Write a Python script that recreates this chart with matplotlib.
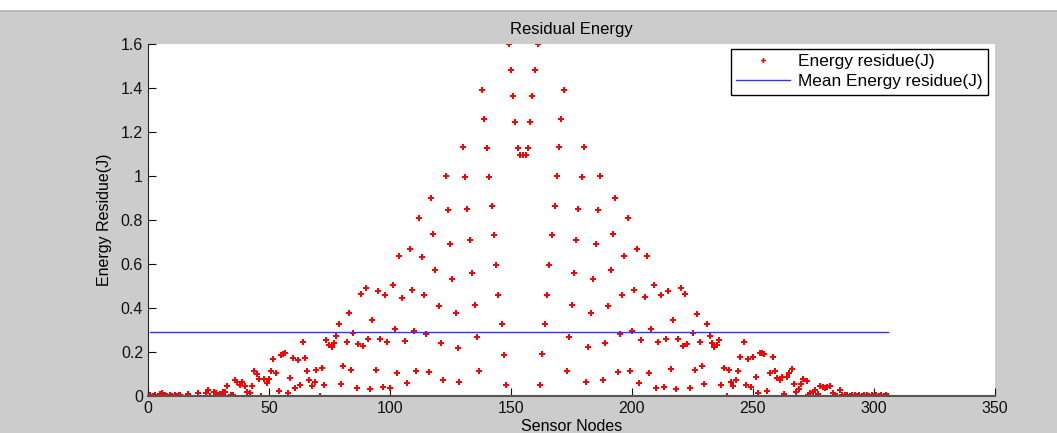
import numpy as np
import matplotlib
matplotlib.use("Agg")
import matplotlib.pyplot as plt
from matplotlib.ticker import FormatStrFormatter

# residual energy per sensor node
node = [1, 2, 3, 4, 5, 6, 7, 8, 9, 10, 11, 12, 13,
        13.1, 16.5, 20.7, 24.1, 24.8, 25.7, 27.3, 28.2, 29.6, 31, 31.9, 32.8,
        34.2, 35.1, 35.8, 36.7, 38, 39, 40, 41, 42, 43, 43.8, 45.2, 45.9,
        46.8, 47.8, 49, 49.9, 50.8, 51.8, 53, 54, 54.8, 55.7, 56.6, 58,
        58.8, 60, 60.9, 61.9, 62.8, 63.9, 65, 65.8, 66.7, 67.9, 68.9, 69.5,
        71.2, 72, 72.9, 73.7, 74.9, 75.9, 76.9, 77.7, 79, 79.9, 80.7, 82.2,
        83.1, 83.9, 84.8, 86.2, 86.9, 87.9, 88.7, 90.1, 91, 91.9, 92.7, 94.1,
        95, 95.7, 97.1, 98.1, 98.9, 99.9, 101.1, 102.1, 102.9, 103.7, 105.1,
        106.1, 106.9, 108.1, 109.1, 109.9, 110.7, 112.1, 113.1, 113.9, 114.8,
        116.1, 116.9, 117.9, 118.7, 120.1, 121, 121.9, 123.1, 124, 124.9,
        125.7, 127.1, 128, 128.6, 130.2, 131, 131.9, 132.9, 133.8, 135, 136,
        136.9, 138.1, 139, 140, 140.8, 142, 142.9, 143.9, 144.8, 146.2, 147,
        147.8, 149.2, 150, 150.8, 151.8, 153, 153.7, 155, 156.2, 157, 158,
        158.8, 159.8, 161, 162, 162.8, 164.2, 165, 165.8, 166.8, 168.2, 169,
        169.8, 170.8, 172, 173, 173.8, 175.2, 176, 177, 177.8, 179.2, 180,
        180.9, 181.8, 183.2, 184, 185, 185.8, 186.8, 188, 188.8, 190.2, 191.2,
        192, 192.8, 194.2, 195, 196, 196.8, 198.2, 199, 199.9, 200.7, 202.2,
        203, 203.8, 205.2, 206.2, 207, 207.9, 209.2, 210, 210.9, 211.9, 213.1,
        214, 214.9, 216.2, 217.1, 218.1, 218.9, 220.1, 221.1, 222, 222.9,
        224.1, 225.1, 225.9, 226.9, 228.1, 229, 229.9, 231.1, 232.1, 233.1,
        233.9, 235.1, 236.1, 236.9, 237.9, 239.1, 240.1, 240.9, 241.9, 243,
        243.9, 244.6, 246.2, 247.1, 247.9, 249, 250.1, 251.1, 252.1, 252.9,
        253.8, 254.7, 255.9, 257.2, 258.1, 259.1, 260, 261.2, 262.1, 263,
        263.9, 265, 266.1, 266.9, 267.9, 268.9, 270, 270.8, 272.3, 272.9,
        273.7, 274.7, 275.6, 276.7, 277.8, 278.8, 279.8, 280.7, 281.8, 282.9,
        283.9, 284.7, 285.8, 286.8, 288, 289, 290, 291, 292, 293, 294, 295,
        296, 297, 298, 299, 300, 301, 302, 303, 304, 305, 306]
energy = [0.003, 0.002, 0.005, 0.002, 0.01, 0.015, 0.005, 0.002, 0.003, 0.002,
          0.003, 0.002, 0.005,
          0.005, 0.008, 0.012, 0.012, 0.029, 0.001, 0.017, 0.012, 0.009, 0.02,
          0.02, 0.047, 0.005, 0.005, 0.074, 0.065, 0.05, 0.065, 0.046, 0.02,
          0.012, 0.047, 0.113, 0.099, 0.079, 0.001, 0.079, 0.061, 0.079, 0.113,
          0.169, 0.103, 0.021, 0.187, 0.193, 0.195, 0.012, 0.083, 0.174, 0.038,
          0.164, 0.05, 0.247, 0.173, 0.115, 0.072, 0.047, 0.064, 0.12,
          0.0, 0.128, 0.05, 0.255, 0.231, 0.222, 0.24, 0.272, 0.329, 0.053,
          0.137, 0.246, 0.375, 0.12, 0.288, 0.038, 0.237, 0.465, 0.226, 0.491,
          0.26, 0.031, 0.346, 0.12, 0.477, 0.26, 0.041, 0.457, 0.246, 0.038,
          0.506, 0.304, 0.103, 0.638, 0.445, 0.251, 0.058, 0.667, 0.482, 0.296,
          0.113, 0.81, 0.633, 0.46, 0.284, 0.108, 0.901, 0.737, 0.573, 0.409,
          0.24, 0.072, 0.999, 0.846, 0.691, 0.534, 0.378, 0.219, 0.062, 1.134,
          0.996, 0.851, 0.708, 0.56, 0.415, 0.269, 0.115, 1.39, 1.257, 1.127,
          0.996, 0.864, 0.732, 0.595, 0.46, 0.325, 0.185, 0.049, 1.599, 1.484,
          1.365, 1.247, 1.127, 1.097, 1.097, 1.097, 1.127, 1.247, 1.365, 1.484,
          1.599, 0.049, 0.19, 0.325, 0.46, 0.595, 0.732, 0.864, 0.999, 1.13,
          1.257, 1.39, 0.115, 0.269, 0.415, 0.56, 0.708, 0.851, 0.996, 1.134,
          0.062, 0.222, 0.378, 0.534, 0.692, 0.847, 0.999, 0.072, 0.24, 0.409,
          0.573, 0.737, 0.901, 0.108, 0.284, 0.46, 0.638, 0.81, 0.113, 0.296,
          0.482, 0.667, 0.058, 0.254, 0.45, 0.638, 0.103, 0.304, 0.506, 0.038,
          0.246, 0.457, 0.041, 0.26, 0.477, 0.123, 0.346, 0.031, 0.26, 0.491,
          0.226, 0.465, 0.237, 0.038, 0.288, 0.12, 0.374, 0.246, 0.137, 0.053,
          0.329, 0.272, 0.24, 0.222, 0.234, 0.255, 0.05, 0.128, 0.0, 0.12,
          0.062, 0.046, 0.072, 0.115, 0.176, 0.247, 0.049, 0.169, 0.041, 0.176,
          0.087, 0.015, 0.197, 0.197, 0.19, 0.024, 0.106, 0.176, 0.115, 0.083,
          0.072, 0.087, 0.008, 0.087, 0.106, 0.124, 0.053, 0.02, 0.033, 0.056,
          0.077, 0.067, 0.005, 0.012, 0.02, 0.026, 0.008, 0.046, 0.041, 0.038,
          0.04, 0.046, 0.015, 0.005, 0.001, 0.029, 0.005, 0.003, 0.004, 0.002,
          0.005, 0.003, 0.002, 0.004, 0.002, 0.003, 0.005, 0.002, 0.003, 0.002,
          0.004, 0.002, 0.003, 0.002, 0.003, 0.002]
mean_energy = 0.293
mean_span = [1, 306]

plt.rcParams['font.family'] = ['Liberation Sans', 'DejaVu Sans']

fig = plt.figure(figsize=(10.57, 4.33), dpi=100, facecolor='#cccccc')
# white strip at top (window toolbar remnant)
fig.patches.append(plt.Rectangle((0, 0.977), 1, 0.023, transform=fig.transFigure,
                                 facecolor='white', edgecolor='none'))
fig.patches.append(plt.Rectangle((0, 0.972), 1, 0.005, transform=fig.transFigure,
                                 facecolor='#b8b8b8', edgecolor='none'))

ax = fig.add_axes([0.140, 0.0855, 0.8013, 0.8129])
ax.set_facecolor('white')

pts, = ax.plot(node, energy, linestyle='none', marker='P', markersize=5,
               color='red', markeredgewidth=0, label='Energy residue(J)')
ax.plot(mean_span, [mean_energy, mean_energy], color='#3333ff', linewidth=1,
        label='Mean Energy residue(J)')

ax.set_xlim(0, 350)
ax.set_ylim(0, 1.6)
ax.set_xticks(np.arange(0, 351, 50))
ax.set_yticks(np.arange(0, 1.61, 0.2))
ax.yaxis.set_major_formatter(FormatStrFormatter('%g'))

for s in ['top', 'right']:
    ax.spines[s].set_visible(False)
ax.spines['left'].set_color('#222222')
ax.spines['bottom'].set_color('#555555')
ax.spines['bottom'].set_linewidth(1.5)
ax.tick_params(direction='in', length=6, labelsize=11.5, colors='#111111')

ax.set_title('Residual Energy', fontsize=12, pad=7)
ax.set_xlabel('Sensor Nodes', fontsize=11.5, labelpad=2)
ax.set_ylabel('Energy Residue(J)', fontsize=11.5, labelpad=6)

leg = ax.legend(loc='upper right', bbox_to_anchor=(0.9917, 0.9858), fontsize=12.4,
                fancybox=False, framealpha=1, edgecolor='black',
                borderpad=0.3, handlelength=3.1, handletextpad=0.5,
                labelspacing=0.3, borderaxespad=0, markerscale=0.7)
leg.get_frame().set_linewidth(1)

fig.savefig('out.png', dpi=100, facecolor=fig.get_facecolor())
